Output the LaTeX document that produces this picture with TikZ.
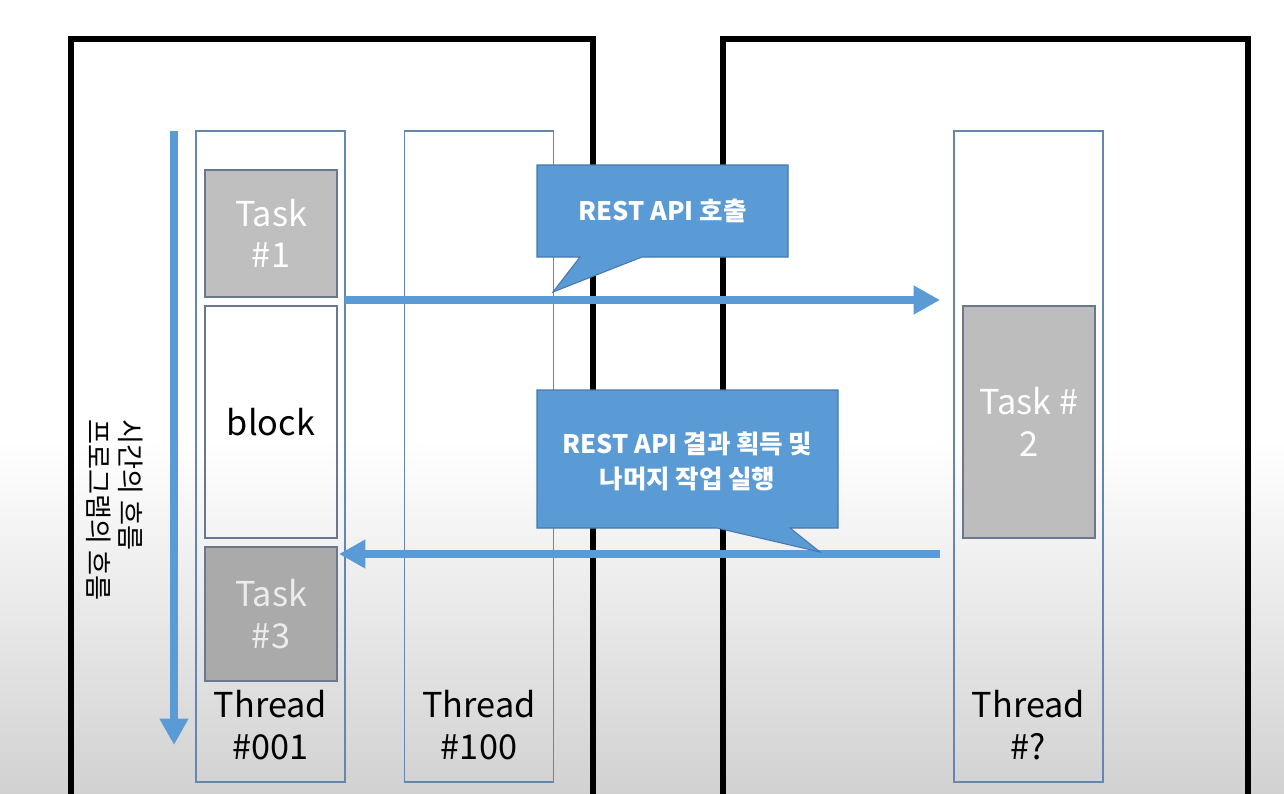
\documentclass[tikz,border=0pt]{standalone}
\usepackage{fontspec}
\setmainfont{Noto Sans CJK KR}
\usetikzlibrary{arrows.meta}
\definecolor{bleu}{RGB}{91,155,213}
\definecolor{bordbulle}{RGB}{70,120,175}
\definecolor{bordfil}{RGB}{100,135,175}
\definecolor{bordtache}{RGB}{105,120,140}
\begin{document}
\begin{tikzpicture}[x=0.02cm, y=-0.02cm]
			\tikzset{fil/.style={draw=bordfil, line width=0.9pt, minimum width=2.98cm, minimum height=13.02cm, inner sep=0},
				tache/.style={draw=bordtache, line width=0.8pt, minimum width=2.64cm, inner sep=0, align=center, text=white, font=\fontsize{19.5}{23.5}\selectfont},
				etiq/.style={align=center, font=\fontsize{19.5}{23.5}\selectfont},
				bulle/.style={fill=bleu, draw=bordbulle, line width=0.6pt},
				texte/.style={align=center, text=white, font=\fontsize{14.5}{20}\selectfont\bfseries},
				fleche/.style={draw=bleu, line width=4.5pt, -{Triangle[length=15pt, width=15.5pt]}},
				cadre/.style={draw=black, line width=3.6pt}};

			\useasboundingbox (0,0) rectangle (1284,794);
			\clip (0,0) rectangle (1284,794);
			\fill[white] (0,0) rectangle (1284,440);
			\shade[top color=white, bottom color=gray!36] (0,440) rectangle (1284,794);

			\draw[cadre] ( 71,39) rectangle ( 593,840);
			\draw[cadre] (723,39) rectangle (1248,840);

			\node[fil] (th1)   at ( 270.5, 456.5) {};
			\node[fil] (th100) at ( 479,   456.5) {};
			\node[fil] (thq)   at (1028.5, 456.5) {};

			\node[tache, fill=gray!50, minimum height=2.54cm] (t1)  at ( 271, 233.5) {Task\\\#1};
			\node[tache, fill=none, text=black, minimum height=4.64cm] (blk) at ( 271, 422) {block};
			\node[tache, fill=gray!67, text=gray!15, minimum height=2.68cm] (t3)  at ( 271, 614) {Task\\\#3};
			\node[tache, fill=gray!52, minimum height=4.64cm] (t2)  at (1029, 422) {Task \#\\2};

			\node[etiq] (lab1)   at ( 270.5, 725) {Thread\\\#001};
			\node[etiq] (lab100) at ( 479,   725) {Thread\\\#100};
			\node[etiq] (labq)   at (1028.5, 725) {Thread\\\#?};

			\node[rotate=-90, align=left, font=\fontsize{15.5}{18}\selectfont] (temps) at (114.5,510) {시간의 흐름\\프로그램의 흐름};

			\coordinate (tempsA) at (174,131);
			\coordinate (tempsB) at (174,745);
			\coordinate (appelA) at (345,300);
			\coordinate (appelB) at (940,300);
			\coordinate (retourA) at (940,554);
			\coordinate (retourB) at (339,554);

			\draw[fleche] (tempsA) -- (tempsB);
			\draw[fleche] (appelA) -- (appelB);
			\draw[fleche] (retourA) -- (retourB);

			\draw[bulle] (537,165) -- (788,165) -- (788,257) -- (642,257) -- (553,292) -- (580,257) -- (537,257) -- cycle;
			\node[texte] (appel) at (662.5,211) {REST API 호출};

			\draw[bulle] (537,390) -- (838,390) -- (838,528) -- (790,528) -- (820,552) -- (717,528) -- (537,528) -- cycle;
			\node[texte] (retour) at (687.5,461) {REST API 결과 획득 및\\나머지 작업 실행};

		\end{tikzpicture}
\end{document}
